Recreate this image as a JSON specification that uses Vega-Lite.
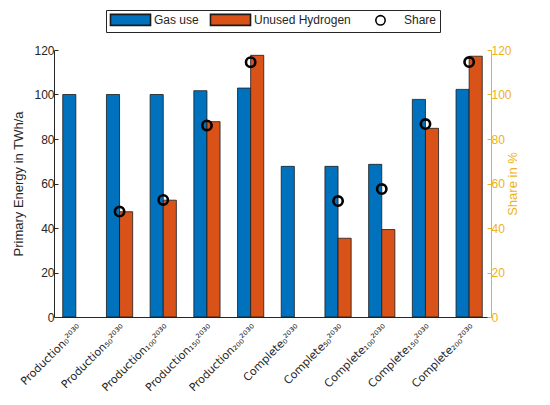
{
  "$schema": "https://vega.github.io/schema/vega-lite/v6.json",
  "width": 437,
  "height": 267,
  "padding": {"left": 12, "top": 9, "right": 5, "bottom": 5},
  "config": {
    "font": "Liberation Sans",
    "view": {"stroke": null},
    "axis": {
      "labelFont": "Liberation Sans",
      "titleFont": "Liberation Sans",
      "labelFontSize": 12,
      "titleFontSize": 13,
      "titleFontWeight": "normal",
      "grid": false,
      "domainColor": "#262626",
      "tickColor": "#262626",
      "labelColor": "#262626",
      "titleColor": "#262626"
    },
    "legend": {
      "orient": "none",
      "legendX": 52,
      "legendY": -40,
      "direction": "horizontal",
      "strokeColor": "#262626",
      "fillColor": "white",
      "padding": 3,
      "labelFont": "Liberation Sans",
      "labelFontSize": 12,
      "labelColor": "#262626",
      "symbolSize": 121,
      "symbolOffset": 15,
      "columnPadding": 8,
      "labelOffset": 17,
      "symbolStrokeWidth": 1.6
    }
  },
  "data": {
    "values": [
      {"cat": "Production₀²⁰³⁰", "series": "Gas use", "value": 100},
      {"cat": "Production₅₀²⁰³⁰", "series": "Gas use", "value": 100},
      {"cat": "Production₅₀²⁰³⁰", "series": "Unused Hydrogen", "value": 47.3},
      {"cat": "Production₅₀²⁰³⁰", "series": "Share", "value": 47.4},
      {"cat": "Production₁₀₀²⁰³⁰", "series": "Gas use", "value": 100},
      {"cat": "Production₁₀₀²⁰³⁰", "series": "Unused Hydrogen", "value": 52.5},
      {"cat": "Production₁₀₀²⁰³⁰", "series": "Share", "value": 52.6},
      {"cat": "Production₁₅₀²⁰³⁰", "series": "Gas use", "value": 101.7},
      {"cat": "Production₁₅₀²⁰³⁰", "series": "Unused Hydrogen", "value": 87.8},
      {"cat": "Production₁₅₀²⁰³⁰", "series": "Share", "value": 86.1},
      {"cat": "Production₂₀₀²⁰³⁰", "series": "Gas use", "value": 102.9},
      {"cat": "Production₂₀₀²⁰³⁰", "series": "Unused Hydrogen", "value": 117.6},
      {"cat": "Production₂₀₀²⁰³⁰", "series": "Share", "value": 114.5},
      {"cat": "Complete₀²⁰³⁰", "series": "Gas use", "value": 67.7},
      {"cat": "Complete₅₀²⁰³⁰", "series": "Gas use", "value": 67.7},
      {"cat": "Complete₅₀²⁰³⁰", "series": "Unused Hydrogen", "value": 35.4},
      {"cat": "Complete₅₀²⁰³⁰", "series": "Share", "value": 52.1},
      {"cat": "Complete₁₀₀²⁰³⁰", "series": "Gas use", "value": 68.6},
      {"cat": "Complete₁₀₀²⁰³⁰", "series": "Unused Hydrogen", "value": 39.3},
      {"cat": "Complete₁₀₀²⁰³⁰", "series": "Share", "value": 57.5},
      {"cat": "Complete₁₅₀²⁰³⁰", "series": "Gas use", "value": 97.8},
      {"cat": "Complete₁₅₀²⁰³⁰", "series": "Unused Hydrogen", "value": 84.8},
      {"cat": "Complete₁₅₀²⁰³⁰", "series": "Share", "value": 86.7},
      {"cat": "Complete₂₀₀²⁰³⁰", "series": "Gas use", "value": 102.3},
      {"cat": "Complete₂₀₀²⁰³⁰", "series": "Unused Hydrogen", "value": 117.2},
      {"cat": "Complete₂₀₀²⁰³⁰", "series": "Share", "value": 114.6}
    ]
  },
  "layer": [
    {
      "transform": [{"filter": "datum.series !== 'Share'"}],
      "mark": {"type": "bar", "stroke": "#1a1a1a", "strokeWidth": 0.8},
      "encoding": {
        "x": {
          "field": "cat",
          "type": "nominal",
          "sort": null,
          "scale": {"paddingInner": 0.4, "paddingOuter": 0.2},
          "axis": {"title": null, "labelAngle": -45, "labelFont": "DejaVu Sans", "labelFontSize": 11, "ticks": false, "labelPadding": 5}
        },
        "xOffset": {
          "field": "series",
          "type": "nominal",
          "scale": {"domain": ["Gas use", "Unused Hydrogen"]}
        },
        "y": {
          "field": "value",
          "type": "quantitative",
          "scale": {"domain": [0, 120], "nice": false},
          "axis": {"title": "Primary Energy in TWh/a", "values": [0, 20, 40, 60, 80, 100, 120], "tickSize": -4, "labelPadding": 4, "titlePadding": 8}
        },
        "fill": {
          "field": "series",
          "type": "nominal",
          "scale": {"domain": ["Gas use", "Unused Hydrogen", "Share"], "range": ["#0072BD", "#D95319", "transparent"]},
          "legend": {"title": null}
        }
      }
    },
    {
      "transform": [{"filter": "datum.series === 'Share'"}],
      "mark": {"type": "point", "filled": false, "strokeWidth": 2.6, "size": 121, "opacity": 1},
      "encoding": {
        "x": {"field": "cat", "type": "nominal", "sort": null},
        "y": {
          "field": "value",
          "type": "quantitative",
          "scale": {"domain": [0, 120], "nice": false},
          "axis": {
            "orient": "right",
            "title": "Share in %",
            "titleAngle": 270,
            "values": [0, 20, 40, 60, 80, 100, 120],
            "tickSize": -4,
            "labelPadding": 4,
            "domainColor": "#EDB120",
            "tickColor": "#EDB120",
            "labelColor": "#EDB120",
            "titleColor": "#EDB120",
            "titlePadding": 8
          }
        },
        "stroke": {
          "field": "series",
          "type": "nominal",
          "scale": {"domain": ["Gas use", "Unused Hydrogen", "Share"], "range": ["#1a1a1a", "#1a1a1a", "#000000"]},
          "legend": {"title": null}
        },
        "shape": {
          "field": "series",
          "type": "nominal",
          "scale": {
            "domain": ["Gas use", "Unused Hydrogen", "Share"],
            "range": ["M-3.64,-1H3.64V1H-3.64Z", "M-3.64,-1H3.64V1H-3.64Z", "M0.85,0A0.85,0.85 0 1,1 -0.85,0A0.85,0.85 0 1,1 0.85,0Z"]
          },
          "legend": {"title": null}
        }
      }
    }
  ],
  "resolve": {"scale": {"y": "independent"}}
}
